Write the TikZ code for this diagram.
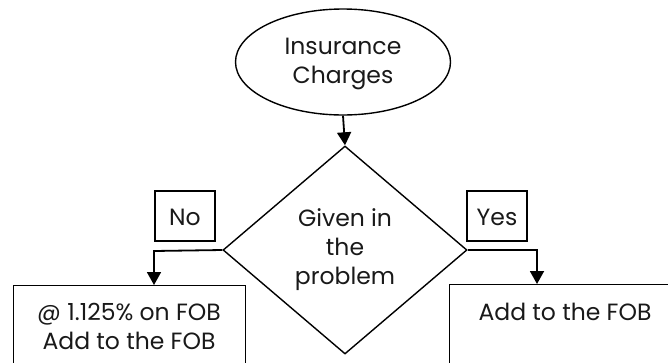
\documentclass[tikz,border=0pt]{standalone}
\usepackage{fontspec}
\setmainfont{Poppins}
\usetikzlibrary{shapes.geometric,arrows.meta}
\tikzset{
  shapeline/.style={draw=black,line width=1.4pt},
  txt/.style={align=center,font=\fontsize{23.5}{29}\selectfont,inner sep=0pt,text=black!90},
  conn/.style={line width=1.8pt,-{Triangle[length=13pt,width=14pt]}},
}
\begin{document}
\begin{tikzpicture}[x=1pt,y=-1pt]
\useasboundingbox (0,0) rectangle (668,362);
\node[shapeline,ellipse,minimum width=215pt,minimum height=106pt,inner sep=0pt] (start) at (343,62) {};
\node[txt] (starttxt) at (343,64) {Insurance\\Charges};
\node[shapeline,diamond,minimum width=244pt,minimum height=208pt,inner sep=0pt] (dec) at (345,250) {};
\node[txt] (dectxt) at (345,250) {Given in\\the\\problem};
\node[shapeline,rectangle,minimum width=60pt,minimum height=50pt,inner sep=0pt] (no) at (185,216) {};
\node[txt] (notxt) at (185,217) {No};
\node[shapeline,rectangle,minimum width=60pt,minimum height=50pt,inner sep=0pt] (yes) at (497,216) {};
\node[txt] (yestxt) at (497,217) {Yes};
\node[shapeline,rectangle,minimum width=232pt,minimum height=110pt,inner sep=0pt,anchor=north west] (lbox) at (13,285) {};
\node[txt] (ltxt) at (129,326) {@ 1.125\% on FOB\\Add to the FOB};
\node[shapeline,rectangle,minimum width=232pt,minimum height=110pt,inner sep=0pt,anchor=north west] (rbox) at (449,284) {};
\node[txt] (rtxt) at (565,312) {Add to the FOB};
\coordinate (lc) at (154,251);
\coordinate (rc) at (537,250);
\draw[conn] (start.south) -- (dec.north);
\draw[conn] (dec.west) -- (lc) -- (lbox.north west -| lc);
\draw[conn] (dec.east) -- (rc) -- (rbox.north west -| rc);
\end{tikzpicture}
\end{document}
